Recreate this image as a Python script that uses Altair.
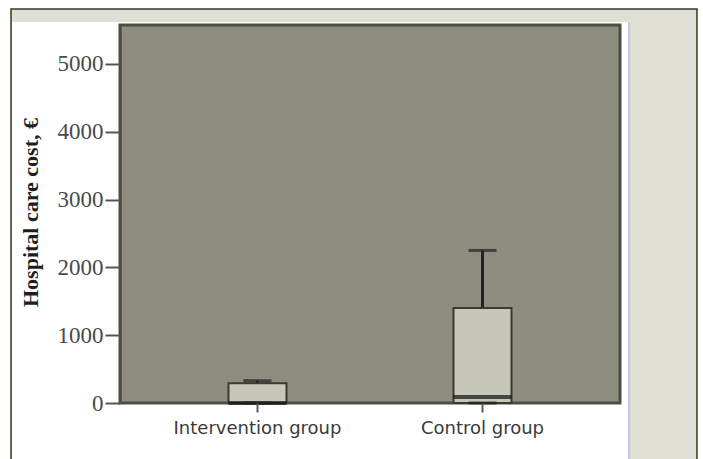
import altair as alt
import pandas as pd

# Box-plot summary of hospital care cost per group
groups = ["Intervention group", "Control group"]
q1 = [0, 0]
median = [0, 90]
q3 = [290, 1400]
whisker_low = [0, 0]
whisker_high = [330, 2250]

y_ticks = [0, 1000, 2000, 3000, 4000, 5000]
y_max = 5575

df = pd.DataFrame({
    "group": groups,
    "q1": q1,
    "median": median,
    "q3": q3,
    "lo": whisker_low,
    "hi": whisker_high,
})
one = pd.DataFrame({"k": [0]})

x_enc = alt.X(
    "group:N",
    sort=groups,
    title=None,
    scale=alt.Scale(paddingOuter=0.111, paddingInner=0),
    axis=alt.Axis(
        labelAngle=0,
        labelFont="DejaVu Sans",
        labelFontSize=18,
        labelColor="#3a3a3a",
        labelPadding=7,
        tickSize=9,
        tickWidth=2,
        tickColor="#5a5a55",
        domain=False,
        zindex=1,
    ),
)
y_scale = alt.Scale(domain=[0, y_max], nice=False, zero=True)
y_axis = alt.Axis(
    values=y_ticks,
    format="d",
    grid=False,
    labelFont="Liberation Serif",
    labelFontSize=23,
    labelColor="#4a4a4a",
    labelPadding=2,
    tickSize=15,
    tickWidth=2,
    tickColor="#555550",
    domainColor="#4e4d44",
    domainWidth=2,
    title="Hospital care cost, €",
    titleFont="Liberation Serif",
    titleFontSize=22,
    titleFontWeight="bold",
    titleColor="#1e1e1e",
    titleAngle=-90,
    titleAlign="center",
    titleBaseline="middle",
    titleX=-90,
    titleY=187,
    zindex=1,
)

# Window frame, white panel and side strip around the plot
outer = alt.Chart(one).mark_rect(
    fill="#dfdfd6", stroke="#3b3326", strokeWidth=1.5
).encode(x=alt.value(-109), x2=alt.value(577), y=alt.value(-16), y2=alt.value(445))

panel = alt.Chart(one).mark_rect(fill="white").encode(
    x=alt.value(-108), x2=alt.value(508), y=alt.value(-3), y2=alt.value(445)
)

edge = alt.Chart(one).mark_rule(color="#a8a8ff", strokeWidth=1).encode(
    x=alt.value(509), y=alt.value(-3), y2=alt.value(445)
)

plot_bg = alt.Chart(one).mark_rect(
    fill="#8f8d7f", stroke="#4e4d44", strokeWidth=3
).encode(x=alt.value(0), x2=alt.value(500), y=alt.value(0), y2=alt.value(378))

base = alt.Chart(df)

whisker_up = base.mark_rule(color="#222222", strokeWidth=3).encode(
    x=x_enc,
    y=alt.Y("q3:Q", scale=y_scale, axis=y_axis),
    y2="hi:Q",
)
whisker_dn = base.mark_rule(color="#222222", strokeWidth=3).encode(
    x=x_enc, y=alt.Y("lo:Q", scale=y_scale, axis=y_axis), y2="q1:Q"
)
box = base.mark_bar(
    size=58, fill="#c6c7b9", stroke="#3a3a33", strokeWidth=2
).encode(x=x_enc, y=alt.Y("q1:Q", scale=y_scale, axis=y_axis), y2="q3:Q")
med = base.mark_tick(size=58, thickness=4, color="#111111").encode(
    x=x_enc, y=alt.Y("median:Q", scale=y_scale, axis=y_axis)
)
cap_hi = base.mark_tick(size=28, thickness=3, color="#222222").encode(
    x=x_enc, y=alt.Y("hi:Q", scale=y_scale, axis=y_axis)
)
cap_lo = base.mark_tick(size=28, thickness=3, color="#222222").encode(
    x=x_enc, y=alt.Y("lo:Q", scale=y_scale, axis=y_axis)
)

chart = (
    alt.layer(outer, panel, edge, plot_bg, whisker_up, whisker_dn, box, med, cap_hi, cap_lo)
    .properties(
        width=500,
        height=378,
        autosize=alt.AutoSizeParams(type="none"),
        padding={"left": 120, "top": 25, "right": 83, "bottom": 56},
        background="white",
    )
    .configure_view(strokeWidth=0)
)

chart.save("out.html", embed_options={"renderer": "svg", "actions": False})
